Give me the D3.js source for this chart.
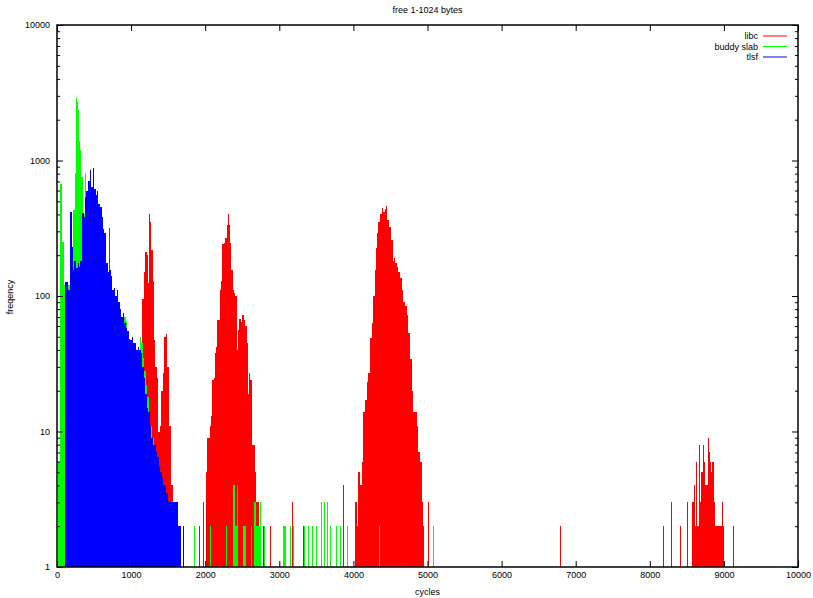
<!DOCTYPE html>
<html>
<head>
<meta charset="utf-8">
<script src="https://cdn.jsdelivr.net/npm/d3@7"></script>
<style>
  body { margin: 0; background: #fff; }
  text { font-family: "Liberation Sans", sans-serif; font-size: 9px; fill: #000; }
</style>
</head>
<body>
<svg width="813" height="598"></svg>
<script>
// data: [cycles, frequency]
const libc = [
  [700, 320],
  [1150, 95], [1170, 150], [1190, 210], [1210, 200], [1225, 125], [1240, 400], [1255, 350],
  [1275, 220], [1295, 130], [1310, 47], [1325, 30], [1345, 25], [1365, 10], [1385, 11],
  [1405, 20], [1425, 27], [1445, 50], [1465, 52], [1485, 30], [1505, 11], [1525, 11],
  [1545, 4], [1565, 3],
  [1660, 2], [1700, 2], [1917, 2], [1970, 3],
  [2010, 5], [2025, 9], [2045, 9], [2065, 11], [2080, 13], [2095, 24], [2115, 25], [2135, 38],
  [2150, 42], [2165, 66], [2185, 66], [2200, 110], [2215, 130], [2230, 240], [2250, 245],
  [2270, 270], [2290, 335], [2305, 400], [2320, 335], [2335, 245], [2350, 155], [2370, 110],
  [2390, 105], [2405, 100], [2425, 40], [2440, 56], [2460, 68], [2480, 64], [2500, 72],
  [2520, 66], [2540, 60], [2558, 45], [2575, 19], [2592, 27], [2610, 24], [2630, 8],
  [2650, 8], [2670, 5], [2690, 3],
  [2713, 3], [2780, 2], [2875, 2], [3170, 3], [3320, 2], [3865, 4], [4023, 3],
  [4055, 2], [4068, 5], [4090, 4], [4113, 6], [4135, 14], [4158, 17], [4180, 23], [4203, 27],
  [4225, 49], [4248, 63], [4270, 100], [4293, 155], [4306, 225], [4324, 290], [4338, 350],
  [4360, 400], [4383, 445], [4405, 420], [4422, 440], [4441, 460], [4459, 365], [4486, 325],
  [4505, 260], [4532, 180], [4548, 190], [4563, 175], [4586, 165], [4608, 150], [4630, 135],
  [4653, 110], [4676, 90], [4698, 85], [4720, 72], [4743, 53], [4765, 34], [4788, 20],
  [4811, 14], [4833, 14], [4855, 11], [4878, 7], [4900, 6], [4923, 3], [4945, 2],
  [5000, 3], [5080, 2], [6790, 2],
  [8180, 2], [8290, 3], [8410, 2], [8505, 3],
  [8570, 3], [8590, 2], [8600, 4], [8615, 2], [8625, 6], [8640, 2], [8655, 2], [8665, 8],
  [8680, 3], [8695, 5], [8710, 5], [8720, 8], [8735, 6], [8750, 4], [8765, 4], [8780, 6],
  [8790, 9], [8800, 7], [8815, 6], [8830, 5], [8845, 6], [8855, 6], [8870, 3], [8885, 2],
  [8900, 2], [8915, 2], [8930, 2], [8945, 2], [8960, 2], [8975, 3], [8990, 2],
  [9125, 2]
];

const buddySlab = [
  [20, 6], [35, 670], [50, 670], [65, 250], [80, 250], [95, 120], [110, 100], [130, 110],
  [150, 120], [170, 130], [190, 200], [212, 430], [230, 430], [248, 810], [262, 2900],
  [270, 2700], [285, 2350], [300, 1400], [315, 1200], [330, 760], [345, 350], [360, 400],
  [375, 810], [395, 400], [420, 450], [450, 500], [480, 520], [510, 450], [540, 400],
  [570, 350], [600, 300], [630, 220], [660, 160], [690, 130], [720, 110], [750, 95],
  [780, 85], [810, 80], [840, 70], [870, 60], [900, 70], [925, 65], [950, 55], [975, 45],
  [1000, 42], [1030, 40], [1060, 38], [1090, 40], [1120, 50], [1140, 45], [1160, 35],
  [1180, 28], [1200, 22], [1220, 18], [1240, 14], [1260, 11], [1280, 9], [1310, 7],
  [1340, 6], [1370, 5], [1400, 4], [1430, 3], [1470, 3], [1500, 2], [1540, 2], [1580, 2],
  [1700, 2], [1850, 2],
  [2065, 2], [2277, 2], [2380, 4], [2403, 2], [2425, 2], [2434, 4], [2515, 2], [2538, 2],
  [2619, 2], [2664, 3], [2686, 2], [2718, 2], [2740, 3], [2799, 2], [3055, 2], [3078, 2],
  [3145, 2], [3190, 2], [3330, 2], [3390, 2], [3440, 2], [3500, 2], [3560, 3], [3600, 3],
  [3650, 3], [3690, 2], [3760, 2], [3820, 2], [3920, 2], [4340, 2], [4350, 2], [5076, 2]
];

const tlsf = [
  [108, 127], [122, 127], [142, 110], [162, 110], [180, 415], [196, 230], [216, 155],
  [236, 180], [256, 160], [277, 175], [297, 165], [317, 180], [338, 410], [358, 380],
  [378, 540], [398, 600], [418, 700], [439, 850], [459, 640], [480, 880], [500, 620],
  [520, 560], [540, 600], [560, 480], [580, 450], [601, 380], [621, 310], [641, 290],
  [662, 175], [682, 150], [702, 155], [722, 140], [742, 110], [763, 115], [783, 100],
  [803, 110], [823, 90], [844, 80], [864, 70], [884, 75], [904, 63], [925, 58], [945, 55],
  [965, 48], [985, 47], [1006, 50], [1026, 45], [1046, 45], [1066, 40], [1087, 42],
  [1107, 40], [1127, 38], [1147, 30], [1168, 25], [1188, 19], [1208, 15], [1228, 14],
  [1249, 11], [1269, 9], [1289, 8], [1309, 8], [1330, 7], [1350, 6.5], [1370, 5.5],
  [1390, 5], [1411, 4.5], [1431, 4], [1451, 3.9], [1471, 3.5], [1492, 3], [1512, 3],
  [1532, 3], [1552, 3], [1573, 3], [1593, 3], [1613, 3], [1633, 2], [1660, 2], [1700, 2]
];

const series = [
  { name: "libc", color: "#ff0000", values: libc },
  { name: "buddy slab", color: "#00ff00", values: buddySlab },
  { name: "tlsf", color: "#0000ff", values: tlsf }
];

const xTicks = [0, 1000, 2000, 3000, 4000, 5000, 6000, 7000, 8000, 9000, 10000];
const yTicks = [1, 10, 100, 1000, 10000];

const width = 813, height = 598;
const margin = { top: 25, right: 15, bottom: 31, left: 57 };

const svg = d3.select("svg");

let x = d3.scaleLinear().domain([0, 10000]).range([margin.left, width - margin.right]);
let y = d3.scaleLog().domain([1, 10000]).range([height - margin.bottom, margin.top]);

// split a series into runs of close impulses (they merge into a solid block)
function runs(vals) {
  const out = [];
  let cur = [vals[0]];
  for (let i = 1; i < vals.length; i++) {
    if (vals[i][0] - vals[i - 1][0] < 40) cur.push(vals[i]);
    else { out.push(cur); cur = [vals[i]]; }
  }
  out.push(cur);
  return out;
}

// step area: each value covers from its own x to the next one's x (last one gets 1px)
const stepArea = d3.area()
  .curve(d3.curveStepAfter)
  .x(d => d.px)
  .y0(y(1))
  .y1(d => y(d.v));

series.forEach(function (s) {
  const g = svg.append("g");
  runs(s.values).forEach(function (run) {
    if (run.length === 1) {
      g.append("line")
        .attr("x1", Math.round(x(run[0][0])) + 0.5)
        .attr("x2", Math.round(x(run[0][0])) + 0.5)
        .attr("y1", y(1))
        .attr("y2", y(run[0][1]))
        .attr("stroke", s.color)
        .attr("shape-rendering", "crispEdges");
    } else {
      const pts = run.map(d => ({ px: Math.round(x(d[0])), v: d[1] }));
      const last = pts[pts.length - 1];
      pts.push({ px: last.px + 1, v: last.v });
      g.append("path")
        .attr("d", stepArea(pts))
        .attr("fill", s.color)
        .attr("shape-rendering", "crispEdges");
    }
  });
});

// minor log ticks
const minor = [];
[1, 10, 100, 1000].forEach(function (dec) {
  for (let k = 2; k < 10; k++) minor.push(dec * k);
});

function clean(g) {
  g.select(".domain").remove();
  g.selectAll("line").attr("stroke", "#000");
}

svg.append("g")
  .attr("transform", `translate(0,${height - margin.bottom})`)
  .call(d3.axisBottom(x).tickValues(xTicks).tickSize(-6).tickPadding(5).tickFormat(d3.format("d")))
  .call(clean)
  .selectAll("text").style("font-size", "9px").style("font-family", "Liberation Sans, sans-serif");

svg.append("g")
  .attr("transform", `translate(0,${margin.top})`)
  .call(d3.axisTop(x).tickValues(xTicks).tickSize(-6).tickFormat(""))
  .call(clean);

svg.append("g")
  .attr("transform", `translate(${margin.left},0)`)
  .call(d3.axisLeft(y).tickValues(yTicks).tickSize(-6).tickPadding(7).tickFormat(d3.format("d")))
  .call(clean)
  .selectAll("text").style("font-size", "9px").style("font-family", "Liberation Sans, sans-serif");

svg.append("g")
  .attr("transform", `translate(${margin.left},0)`)
  .call(d3.axisLeft(y).tickValues(minor).tickSize(-3).tickFormat(""))
  .call(clean);

svg.append("g")
  .attr("transform", `translate(${width - margin.right},0)`)
  .call(d3.axisRight(y).tickValues(yTicks).tickSize(-6).tickFormat(""))
  .call(clean);

svg.append("g")
  .attr("transform", `translate(${width - margin.right},0)`)
  .call(d3.axisRight(y).tickValues(minor).tickSize(-3).tickFormat(""))
  .call(clean);

// frame
svg.append("rect")
  .attr("x", margin.left)
  .attr("y", margin.top)
  .attr("width", width - margin.left - margin.right)
  .attr("height", height - margin.top - margin.bottom)
  .attr("fill", "none")
  .attr("stroke", "#000")
  .attr("stroke-width", 1.5);

// title and axis labels
svg.append("text")
  .attr("x", (margin.left + width - margin.right) / 2)
  .attr("y", 13)
  .attr("text-anchor", "middle")
  .text("free 1-1024 bytes");

svg.append("text")
  .attr("x", (margin.left + width - margin.right) / 2)
  .attr("y", 595)
  .attr("text-anchor", "middle")
  .text("cycles");

svg.append("text")
  .attr("transform", "translate(13,297) rotate(-90)")
  .attr("text-anchor", "middle")
  .text("freqency");

// legend
const legend = svg.append("g");
series.forEach(function (s, i) {
  const ly = 36 + i * 10.5;
  legend.append("text")
    .attr("x", 758)
    .attr("y", ly + 3)
    .attr("text-anchor", "end")
    .text(s.name);
  legend.append("line")
    .attr("x1", 763)
    .attr("x2", 787)
    .attr("y1", ly)
    .attr("y2", ly)
    .attr("stroke", s.color);
});
</script>
</body>
</html>
